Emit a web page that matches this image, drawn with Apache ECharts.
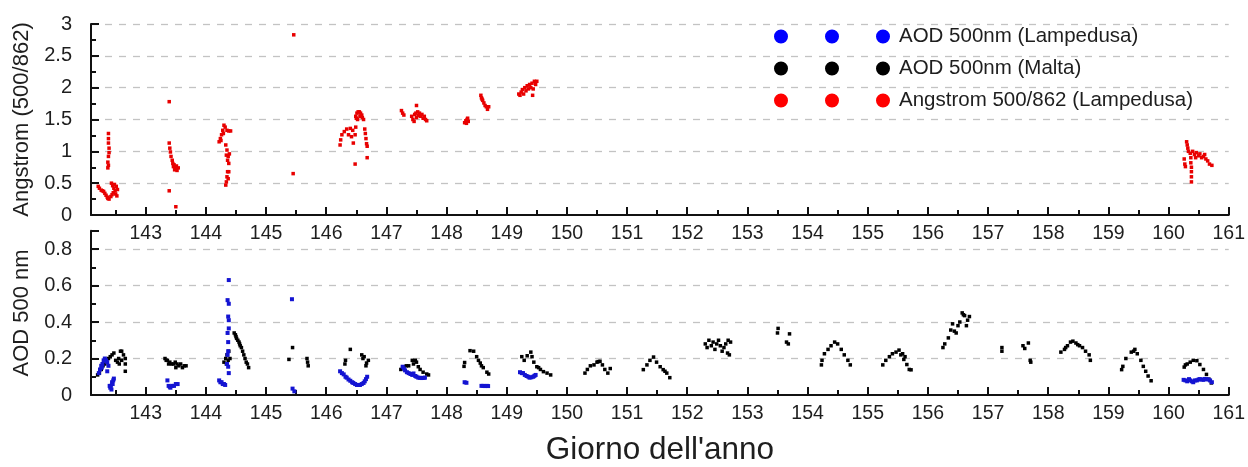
<!DOCTYPE html>
<html>
<head>
<meta charset="utf-8">
<script src="https://cdn.jsdelivr.net/npm/echarts@6/dist/echarts.min.js"></script>
<style>
html,body{margin:0;padding:0;background:#fff;}
#chart{width:1248px;height:467px;}
</style>
</head>
<body>
<div id="chart"></div>
<script>
// ---- Data (day of year, value) ----
const seriesNames = ['AOD 500nm (Lampedusa)', 'AOD 500nm (Malta)', 'Angstrom 500/862 (Lampedusa)'];

const angstromLampedusa = [
[142.21,0.45],[142.23,0.42],[142.26,0.39],[142.28,0.38],[142.30,0.37],[142.32,0.34],[142.34,0.31],[142.36,0.28],[142.37,0.26],[142.39,0.25],
[142.38,1.28],[142.38,1.2],[142.38,1.13],[142.39,1.05],[142.39,0.98],[142.38,0.92],[142.37,0.83],[142.38,0.78],[142.37,0.74],
[142.42,0.29],[142.43,0.5],[142.44,0.32],[142.45,0.46],[142.46,0.35],[142.47,0.42],[142.48,0.48],[142.49,0.38],[142.5,0.33],[142.51,0.45],[142.52,0.3],[142.53,0.4],
[143.39,1.78],[143.39,1.13],[143.40,1.05],[143.41,0.99],[143.42,0.92],[143.44,0.86],[143.45,0.81],[143.46,0.76],[143.47,0.79],[143.48,0.71],[143.49,0.74],[143.5,0.72],[143.51,0.77],[143.52,0.7],[143.54,0.74],[143.39,0.38],[143.5,0.13],
[144.22,1.15],[144.24,1.2],[144.25,1.17],[144.26,1.26],[144.28,1.33],[144.29,1.28],[144.3,1.41],[144.32,1.38],[144.35,1.33],[144.38,1.32],[144.41,1.32],
[144.33,1.1],[144.35,1.02],[144.34,0.94],[144.37,0.92],[144.39,0.96],[144.36,0.86],[144.38,0.81],[144.36,0.68],[144.38,0.68],[144.35,0.6],[144.37,0.57],[144.34,0.52],[144.33,0.47],
[145.46,2.83],[145.45,0.65],
[146.23,1.1],[146.24,1.18],[146.26,1.26],[146.30,1.31],[146.34,1.35],[146.37,1.26],[146.40,1.36],[146.42,1.23],[146.44,1.33],[146.45,1.13],[146.48,1.26],[146.49,1.38],[146.48,0.8],
[146.49,1.55],[146.5,1.52],[146.51,1.6],[146.52,1.5],[146.53,1.62],[146.55,1.62],[146.56,1.55],[146.57,1.6],[146.59,1.57],[146.6,1.53],[146.62,1.5],
[146.64,1.35],[146.65,1.28],[146.66,1.2],[146.67,1.12],[146.68,1.08],[146.68,0.9],
[147.25,1.64],[147.27,1.6],[147.29,1.57],[147.42,1.55],[147.44,1.5],[147.46,1.47],[147.47,1.58],[147.49,1.6],[147.5,1.53],[147.5,1.72],[147.52,1.62],[147.53,1.56],[147.55,1.6],[147.57,1.55],[147.59,1.58],[147.61,1.52],[147.63,1.55],[147.65,1.5],[147.67,1.48],
[148.3,1.45],[148.32,1.48],[148.33,1.44],[148.34,1.5],[148.35,1.52],[148.36,1.47],
[148.57,1.88],[148.58,1.84],[148.59,1.82],[148.6,1.8],[148.62,1.76],[148.64,1.72],[148.66,1.7],[148.68,1.66],[148.7,1.7],
[149.2,1.9],[149.22,1.88],[149.24,1.93],[149.26,1.97],[149.28,1.9],[149.3,2.0],[149.32,1.95],[149.34,2.03],[149.36,1.98],[149.38,2.05],[149.4,2.0],[149.42,2.07],[149.43,1.88],[149.44,1.98],[149.46,2.1],[149.48,2.05],[149.5,2.1],
[160.26,0.88],[160.27,0.8],[160.28,0.76],[160.3,1.15],[160.31,1.1],[160.32,1.05],[160.33,1.0],[160.36,0.97],[160.37,0.9],[160.37,0.82],[160.38,0.75],[160.38,0.68],[160.38,0.6],[160.38,0.52],
[160.4,1.0],[160.43,0.95],[160.45,0.9],[160.46,0.98],[160.5,0.93],[160.52,0.96],[160.55,0.9],[160.58,0.92],[160.6,0.95],[160.62,0.88],[160.65,0.85],[160.68,0.8],[160.72,0.78]
];

const aodLampedusa = [
[142.22,0.12],[142.24,0.14],[142.26,0.16],[142.27,0.15],[142.28,0.17],[142.3,0.19],[142.32,0.2],[142.34,0.19],[142.36,0.18],[142.36,0.13],[142.38,0.16],
[142.4,0.05],[142.41,0.04],[142.42,0.05],[142.43,0.03],[142.44,0.07],[142.45,0.06],[142.46,0.08],[142.47,0.09],
[143.36,0.08],[143.38,0.05],[143.4,0.045],[143.41,0.04],[143.44,0.05],[143.47,0.05],[143.5,0.06],[143.53,0.06],
[144.22,0.08],[144.24,0.07],[144.26,0.07],[144.28,0.06],[144.3,0.06],[144.32,0.055],
[144.38,0.63],[144.36,0.52],[144.38,0.5],[144.37,0.43],[144.38,0.41],[144.38,0.365],[144.36,0.34],[144.37,0.29],[144.37,0.24],[144.36,0.22],[144.35,0.17],[144.37,0.155],[144.38,0.12],
[145.43,0.525],[145.44,0.035],[145.47,0.02],
[146.23,0.13],[146.26,0.12],[146.29,0.113],[146.32,0.1],[146.34,0.095],[146.37,0.085],[146.4,0.078],[146.43,0.07],[146.45,0.066],[146.48,0.06],[146.51,0.055],[146.54,0.055],[146.56,0.055],[146.59,0.06],[146.62,0.066],[146.64,0.075],[146.66,0.087],[146.68,0.1],
[147.27,0.155],[147.29,0.145],[147.31,0.135],[147.34,0.125],[147.37,0.12],[147.4,0.115],[147.43,0.11],[147.45,0.118],[147.48,0.104],[147.5,0.1],[147.53,0.095],[147.56,0.094],[147.59,0.093],[147.62,0.094],[147.64,0.095],
[148.3,0.07],[148.33,0.067],[148.58,0.05],[148.61,0.05],[148.64,0.049],[148.67,0.05],[148.69,0.049],
[149.22,0.125],[149.25,0.12],[149.27,0.12],[149.3,0.11],[149.33,0.104],[149.36,0.1],[149.38,0.095],[149.41,0.097],[149.44,0.1],[149.46,0.105],[149.48,0.11],
[160.25,0.083],[160.28,0.08],[160.31,0.075],[160.34,0.087],[160.36,0.08],[160.39,0.075],[160.41,0.07],[160.44,0.08],[160.47,0.08],[160.5,0.085],[160.52,0.087],[160.55,0.085],[160.58,0.083],[160.6,0.088],[160.63,0.087],[160.66,0.085],[160.69,0.08],[160.72,0.07]
];

const aodMalta = [
[142.2,0.11],[142.23,0.12],[142.26,0.14],[142.29,0.16],[142.32,0.17],[142.35,0.19],[142.38,0.2],[142.41,0.21],[142.44,0.22],[142.47,0.23],
[142.5,0.19],[142.53,0.18],[142.55,0.2],[142.56,0.17],[142.58,0.24],[142.6,0.24],[142.6,0.19],[142.63,0.22],[142.66,0.2],[142.66,0.17],[142.66,0.13],
[143.32,0.2],[143.34,0.19],[143.36,0.19],[143.38,0.17],[143.4,0.18],[143.43,0.17],[143.46,0.17],[143.49,0.18],[143.5,0.15],[143.52,0.17],[143.55,0.16],[143.58,0.17],[143.61,0.15],[143.64,0.16],[143.67,0.16],
[144.3,0.18],[144.33,0.2],[144.34,0.17],[144.35,0.22],[144.37,0.19],[144.38,0.24],[144.4,0.2],
[144.47,0.34],[144.49,0.33],[144.5,0.32],[144.51,0.31],[144.53,0.3],[144.55,0.29],[144.56,0.28],[144.57,0.27],[144.59,0.26],[144.61,0.24],[144.63,0.22],[144.65,0.2],[144.67,0.18],[144.69,0.17],[144.71,0.15],
[145.38,0.195],[145.44,0.26],[145.68,0.2],[145.69,0.18],[145.7,0.16],
[146.31,0.17],[146.32,0.19],[146.4,0.25],[146.59,0.22],[146.61,0.2],[146.63,0.21],[146.66,0.16],[146.67,0.175],[146.7,0.19],
[147.24,0.14],[147.27,0.15],[147.29,0.155],[147.33,0.16],[147.37,0.16],[147.43,0.19],[147.45,0.17],[147.48,0.19],[147.5,0.18],[147.53,0.155],[147.56,0.14],[147.61,0.125],[147.67,0.115],[147.7,0.11],
[148.29,0.157],[148.3,0.178],[148.39,0.243],[148.45,0.24],[148.5,0.21],[148.53,0.19],[148.56,0.175],[148.58,0.16],[148.61,0.15],[148.67,0.125],[148.7,0.115],
[149.25,0.21],[149.29,0.19],[149.34,0.215],[149.4,0.235],[149.42,0.21],[149.45,0.18],[149.5,0.155],[149.53,0.15],[149.56,0.14],[149.61,0.128],[149.67,0.12],[149.73,0.11],
[150.3,0.12],[150.34,0.14],[150.39,0.16],[150.45,0.165],[150.5,0.18],[150.52,0.183],[150.55,0.185],[150.59,0.165],[150.63,0.14],[150.68,0.12],[150.72,0.145],
[151.27,0.139],[151.33,0.165],[151.38,0.19],[151.44,0.208],[151.49,0.18],[151.55,0.155],[151.6,0.139],[151.63,0.13],[151.66,0.12],[151.71,0.095],
[152.3,0.28],[152.33,0.26],[152.36,0.3],[152.4,0.27],[152.43,0.29],[152.46,0.25],[152.49,0.28],[152.52,0.3],[152.55,0.27],[152.58,0.24],[152.61,0.26],[152.64,0.28],[152.67,0.23],[152.68,0.3],[152.7,0.22],[152.72,0.29],
[153.5,0.34],[153.51,0.365],[153.65,0.29],[153.68,0.28],[153.7,0.335],
[154.23,0.165],[154.24,0.19],[154.28,0.226],[154.34,0.25],[154.39,0.27],[154.45,0.29],[154.5,0.28],[154.56,0.25],[154.61,0.22],[154.67,0.19],[154.71,0.165],
[155.25,0.165],[155.3,0.19],[155.36,0.21],[155.41,0.226],[155.47,0.235],[155.52,0.246],[155.55,0.22],[155.58,0.226],[155.6,0.195],[155.62,0.21],[155.65,0.167],[155.69,0.14],[155.72,0.138],
[156.25,0.26],[156.28,0.28],[156.34,0.313],[156.38,0.356],[156.41,0.39],[156.44,0.35],[156.47,0.34],[156.5,0.38],[156.53,0.4],[156.57,0.45],[156.59,0.44],[156.61,0.435],[156.64,0.38],[156.66,0.41],[156.69,0.43],
[157.23,0.26],[157.23,0.24],[157.58,0.27],[157.61,0.255],[157.67,0.285],[157.7,0.19],[157.71,0.18],
[158.21,0.235],[158.27,0.25],[158.29,0.26],[158.32,0.27],[158.37,0.29],[158.41,0.295],[158.46,0.285],[158.49,0.276],[158.52,0.27],[158.57,0.26],[158.62,0.24],[158.68,0.22],[158.7,0.19],
[159.22,0.139],[159.24,0.157],[159.29,0.2],[159.38,0.235],[159.42,0.24],[159.44,0.25],[159.48,0.226],[159.54,0.19],[159.58,0.157],[159.62,0.13],[159.66,0.104],[159.71,0.078],
[160.26,0.153],[160.28,0.165],[160.31,0.17],[160.36,0.18],[160.41,0.19],[160.47,0.188],[160.52,0.167],[160.58,0.14],[160.63,0.113],[160.67,0.087],[160.71,0.066]
];

// axis ranges
const dayMin = 142.09, dayMax = 161;
const angMax = 3, angStep = 0.5;
const aodMax = 0.9, aodStep = 0.2;

const FONT = '"Liberation Sans", Arial, sans-serif';
const TXT = '#1e1e1e';
const AX = '#111';
const legendPath = 'path://M0,7a7,7 0 1,0 14,0a7,7 0 1,0 -14,0zM51,7a7,7 0 1,0 14,0a7,7 0 1,0 -14,0zM102,7a7,7 0 1,0 14,0a7,7 0 1,0 -14,0z';

function xAxisCfg(gridIndex, withName) {
  const cfg = {
    type: 'value', gridIndex: gridIndex, min: dayMin, max: dayMax,
    splitNumber: 19, minInterval: 1, maxInterval: 1,
    axisLine: { show: true, onZero: false, lineStyle: { color: AX, width: 2 } },
    axisTick: { show: true, inside: true, length: 8, lineStyle: { color: AX, width: 2 } },
    minorTick: { show: true, splitNumber: 2, length: 5, lineStyle: { color: AX, width: 2 } },
    axisLabel: { fontSize: 19.5, color: TXT, margin: 9, fontFamily: FONT, showMinLabel: false },
    splitLine: { show: false }
  };
  if (withName) {
    cfg.name = 'Giorno dell\'anno';
    cfg.nameLocation = 'middle';
    cfg.nameGap = 39;
    cfg.nameTextStyle = { fontSize: 31.5, color: TXT, fontFamily: FONT };
  }
  return cfg;
}
function yAxisCfg(gridIndex, max, step, name) {
  return {
    type: 'value', gridIndex: gridIndex, min: 0, max: max, interval: step,
    name: name, nameLocation: 'middle', nameGap: 57,
    nameTextStyle: { fontSize: 22, color: TXT, fontFamily: FONT },
    axisLine: { show: true, lineStyle: { color: AX, width: 2 } },
    axisTick: { show: true, inside: true, length: 8, lineStyle: { color: AX, width: 2 } },
    minorTick: { show: true, splitNumber: 2, length: 5, lineStyle: { color: AX, width: 2 } },
    axisLabel: { fontSize: 20, color: TXT, margin: 19, fontFamily: FONT, showMaxLabel: max === angMax },
    splitLine: { show: true, showMinLine: false, showMaxLine: max === angMax,
      lineStyle: { color: '#c3c3c3', width: 1.3, type: [7, 7] } }
  };
}

const chart = echarts.init(document.getElementById('chart'), null, { renderer: 'canvas' });
chart.setOption({
  animation: false,
  backgroundColor: '#fff',
  grid: [
    { left: 91, right: 16, top: 24, height: 191, containLabel: false },
    { left: 91, right: 16, top: 230.8, height: 172.5, containLabel: false }
  ],
  xAxis: [xAxisCfg(0, false), xAxisCfg(1, true)],
  yAxis: [yAxisCfg(0, angMax, angStep, 'Angstrom (500/862)'), yAxisCfg(1, aodMax, aodStep, 'AOD 500 nm')],
  legend: {
    orient: 'vertical', left: 769, top: 21, itemWidth: 116, itemHeight: 14, itemGap: 11,
    icon: legendPath,
    itemStyle: { opacity: 1, borderWidth: 0 },
    textStyle: { fontSize: 20.5, color: TXT, fontFamily: FONT, padding: [0, 0, 0, 4] },
    data: [
      { name: seriesNames[0], itemStyle: { color: '#0000ff', opacity: 1 } },
      { name: seriesNames[1], itemStyle: { color: '#000000', opacity: 1 } },
      { name: seriesNames[2], itemStyle: { color: '#ff0000', opacity: 1 } }
    ]
  },
  series: [
    { name: seriesNames[1], type: 'scatter', xAxisIndex: 1, yAxisIndex: 1, data: aodMalta,
      symbol: 'rect', symbolSize: 3.5, itemStyle: { color: '#000000', opacity: 1 }, z: 2 },
    { name: seriesNames[0], type: 'scatter', xAxisIndex: 1, yAxisIndex: 1, data: aodLampedusa,
      symbol: 'rect', symbolSize: 4, itemStyle: { color: '#1414d2', opacity: 1 }, z: 3 },
    { name: seriesNames[2], type: 'scatter', xAxisIndex: 0, yAxisIndex: 0, data: angstromLampedusa,
      symbol: 'rect', symbolSize: 3.5, itemStyle: { color: '#e80000', opacity: 1 }, z: 3 }
  ]
});
</script>
</body>
</html>
